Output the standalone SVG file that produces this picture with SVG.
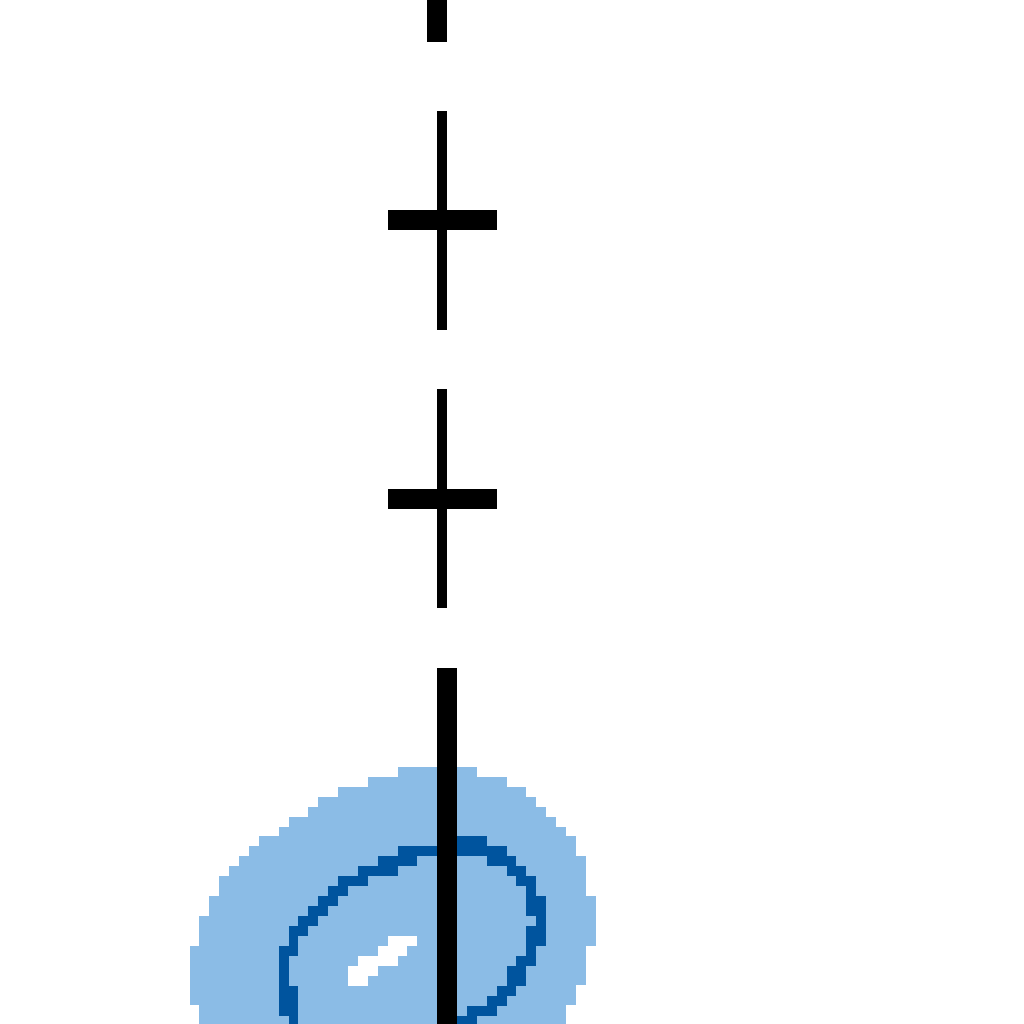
<svg xmlns="http://www.w3.org/2000/svg" width="1024" height="1024" viewBox="0 0 1024 1024" shape-rendering="crispEdges">
<style>
.k{fill:#000}
.lb{fill:#8BBCE6}
.db{fill:#00549E}
.w{fill:#fff}
</style>
<rect width="1024" height="1024" fill="#fff"/>
<g id="blob">
<g id="halo" class="lb">
<rect x="398" y="767" width="79" height="10"/>
<rect x="368" y="777" width="139" height="10"/>
<rect x="338" y="787" width="188" height="10"/>
<rect x="318" y="797" width="218" height="10"/>
<rect x="308" y="807" width="238" height="10"/>
<rect x="289" y="817" width="267" height="10"/>
<rect x="279" y="827" width="287" height="9"/>
<rect x="259" y="836" width="317" height="10"/>
<rect x="249" y="846" width="327" height="10"/>
<rect x="239" y="856" width="347" height="10"/>
<rect x="229" y="866" width="357" height="10"/>
<rect x="219" y="876" width="367" height="20"/>
<rect x="209" y="896" width="387" height="20"/>
<rect x="199" y="916" width="397" height="30"/>
<rect x="190" y="946" width="396" height="39"/>
<rect x="190" y="985" width="386" height="20"/>
<rect x="199" y="1005" width="367" height="19"/>
</g>
<g id="ring" class="db">
<rect x="457" y="836" width="30" height="10"/>
<rect x="398" y="846" width="39" height="10"/>
<rect x="457" y="846" width="50" height="10"/>
<rect x="378" y="856" width="39" height="10"/>
<rect x="487" y="856" width="29" height="10"/>
<rect x="358" y="866" width="40" height="10"/>
<rect x="507" y="866" width="19" height="10"/>
<rect x="338" y="876" width="30" height="10"/>
<rect x="516" y="876" width="20" height="10"/>
<rect x="328" y="886" width="20" height="10"/>
<rect x="526" y="886" width="10" height="10"/>
<rect x="318" y="896" width="20" height="10"/>
<rect x="526" y="896" width="20" height="10"/>
<rect x="308" y="906" width="20" height="10"/>
<rect x="526" y="906" width="20" height="10"/>
<rect x="298" y="916" width="20" height="10"/>
<rect x="536" y="916" width="10" height="10"/>
<rect x="289" y="926" width="19" height="10"/>
<rect x="526" y="926" width="20" height="10"/>
<rect x="289" y="936" width="9" height="10"/>
<rect x="526" y="936" width="20" height="10"/>
<rect x="279" y="946" width="19" height="10"/>
<rect x="526" y="946" width="10" height="10"/>
<rect x="279" y="956" width="10" height="10"/>
<rect x="516" y="956" width="20" height="10"/>
<rect x="279" y="966" width="10" height="20"/>
<rect x="507" y="966" width="19" height="20"/>
<rect x="279" y="986" width="19" height="10"/>
<rect x="497" y="986" width="19" height="10"/>
<rect x="279" y="996" width="19" height="10"/>
<rect x="487" y="996" width="20" height="10"/>
<rect x="279" y="1006" width="19" height="10"/>
<rect x="467" y="1006" width="30" height="10"/>
<rect x="289" y="1016" width="9" height="8"/>
<rect x="457" y="1016" width="20" height="8"/>
</g>
<g id="highlight" class="w">
<rect x="388" y="936" width="29" height="10"/>
<rect x="378" y="946" width="29" height="10"/>
<rect x="358" y="956" width="40" height="10"/>
<rect x="348" y="966" width="30" height="10"/>
<rect x="348" y="976" width="20" height="10"/>
</g>
</g>
<g id="line" class="k">
<rect x="427" y="0" width="20" height="42"/>
<rect x="437" y="111" width="10" height="219"/>
<rect x="388" y="210" width="109" height="20"/>
<rect x="437" y="389" width="10" height="219"/>
<rect x="388" y="489" width="109" height="20"/>
<rect x="437" y="668" width="20" height="356"/>
</g>
</svg>
